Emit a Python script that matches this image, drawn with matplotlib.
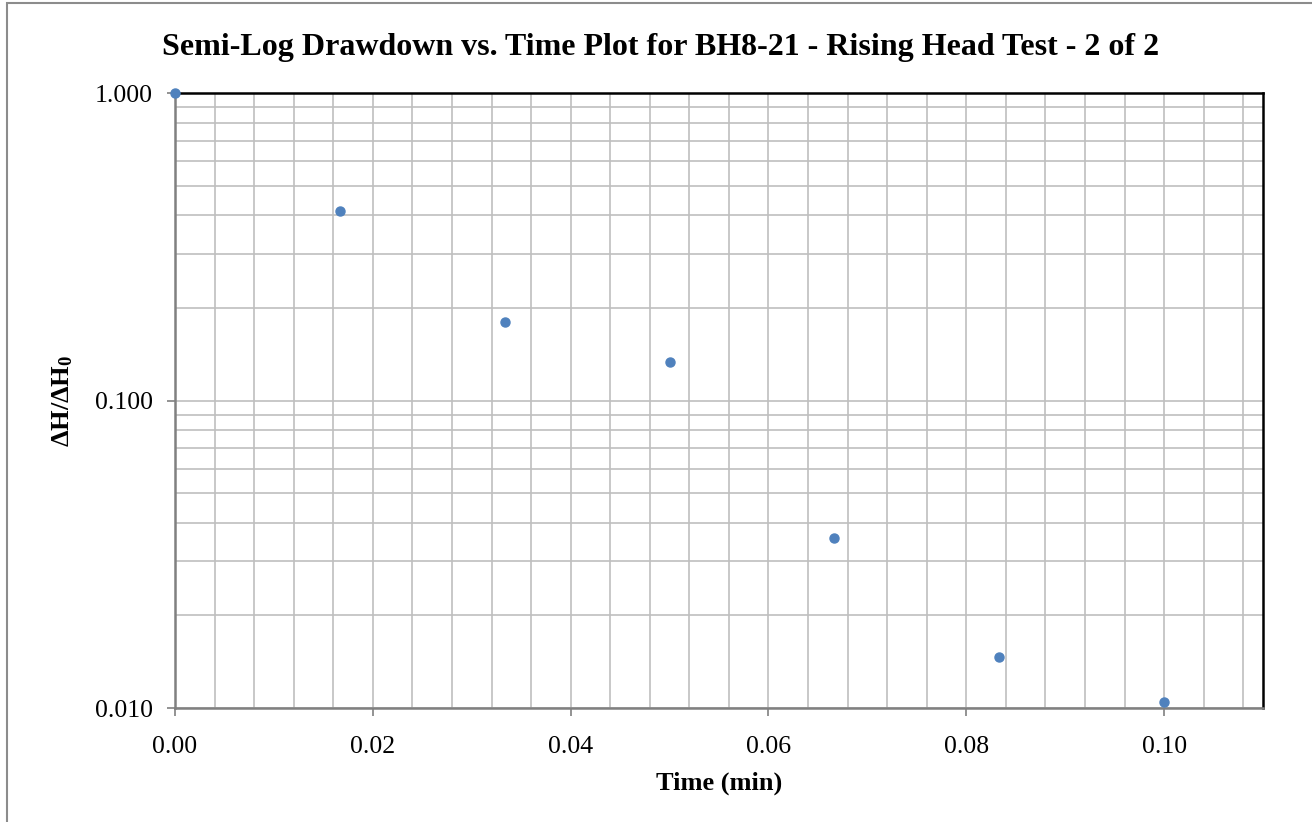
import numpy as np
import matplotlib
matplotlib.use("Agg")
import matplotlib.pyplot as plt
from matplotlib.ticker import MultipleLocator, LogLocator, FormatStrFormatter, NullFormatter
from matplotlib.patches import Rectangle

# rising head test readings
time_min = [0.0, 0.01667, 0.03333, 0.05, 0.06667, 0.08333, 0.1]
head_ratio = [1.0, 0.413, 0.180, 0.1334, 0.0357, 0.01465, 0.01046]

plt.rcParams['font.family'] = ['Liberation Serif', 'DejaVu Serif']
plt.rcParams['mathtext.default'] = 'regular'

fig = plt.figure(figsize=(13.12, 8.22), dpi=100)
ax = fig.add_axes([175 / 1312, 1 - 708 / 822, (1263 - 175) / 1312, (708 - 93) / 822])

# outer chart frame like the excel chart area
fig.patches.append(Rectangle((7 / 1312, -0.1), 1.2, 1 - 3 / 822 + 0.1,
                             transform=fig.transFigure, fill=False,
                             edgecolor='#8c8c8c', linewidth=1.5))

ax.plot(time_min, head_ratio, 'o', color='#4F81BD', markersize=6.5,
        clip_on=False, zorder=5)

ax.set_yscale('log')
ax.set_xlim(0, 0.11)
ax.set_ylim(0.01, 1.0)

ax.xaxis.set_major_locator(MultipleLocator(0.02))
ax.xaxis.set_minor_locator(MultipleLocator(0.004))
ax.xaxis.set_major_formatter(FormatStrFormatter('%.2f'))
ax.yaxis.set_major_locator(LogLocator(base=10, numticks=5))
ax.yaxis.set_minor_locator(LogLocator(base=10, subs=np.arange(2, 10), numticks=20))
ax.yaxis.set_major_formatter(FormatStrFormatter('%.3f'))
ax.yaxis.set_minor_formatter(NullFormatter())

ax.grid(which='both', color='#BFBFBF', linewidth=1.2)
ax.set_axisbelow(True)

for side in ['left', 'bottom']:
    ax.spines[side].set_color('#808080')
    ax.spines[side].set_linewidth(1.8)
for side in ['top', 'right']:
    ax.spines[side].set_color('black')
    ax.spines[side].set_linewidth(1.8)

ax.tick_params(which='major', direction='out', length=6, width=1.2,
               color='#808080', labelsize=18.5)
ax.tick_params(axis='x', pad=14)
ax.tick_params(axis='y', pad=10)
ax.tick_params(which='minor', length=0)

fig.text(661 / 1312, 1 - 47 / 822,
         'Semi-Log Drawdown vs. Time Plot for BH8-21 - Rising Head Test - 2 of 2',
         fontsize=23, fontweight='bold', ha='center', va='center')
ax.set_xlabel('Time (min)', fontsize=19, fontweight='bold', labelpad=10)
ax.set_ylabel('ΔH/ΔH$_0$', fontsize=19, fontweight='bold', labelpad=14)

fig.savefig('out.png', dpi=100)
